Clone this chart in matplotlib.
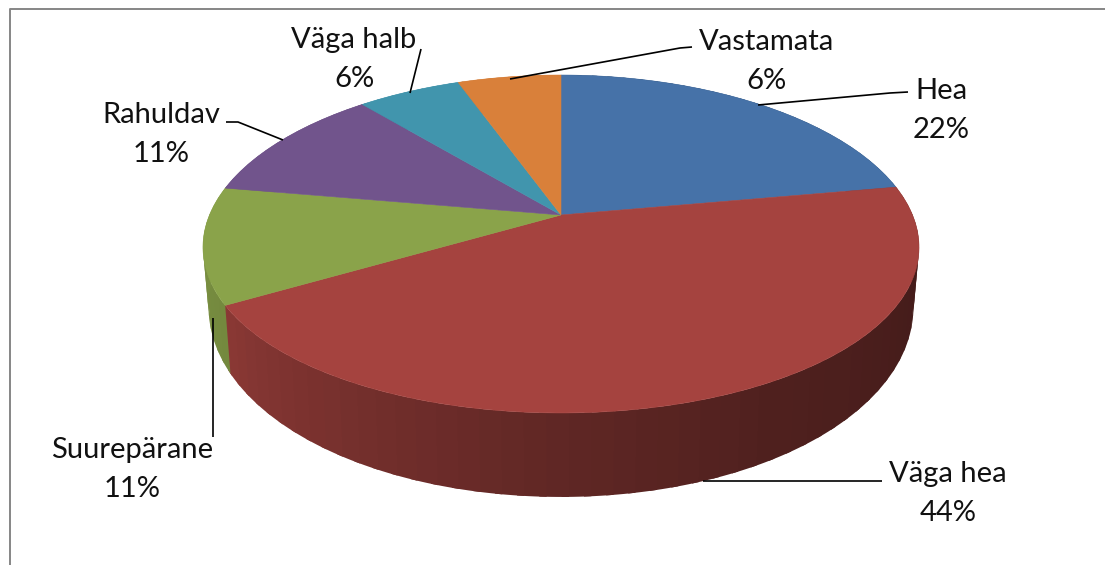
import numpy as np
import matplotlib
matplotlib.use('Agg')
import matplotlib.pyplot as plt
from matplotlib.patches import Polygon

# Дані діаграми
categories = ['Hea', 'Väga hea', 'Suurepärane', 'Rahuldav', 'Väga halb', 'Vastamata']
values = [22.2, 44.4, 11.1, 11.1, 5.6, 5.6]
colors = ['#4672a8', '#a5433f', '#8aa34a', '#71548c', '#4195ad', '#d9803a']

# Підписи: центр тексту, базова лінія першого рядка, лінія-виноска
label_pos = [(941, 99), (948, 482), (132, 458), (161, 123), (354, 48), (767, 50)]
leaders = [
    [(758, 105), (890, 93), (908, 92)],
    [(703, 481), (882, 481)],
    [(213, 318), (213, 437)],
    [(226, 122), (238, 122), (283, 140)],
    [(421, 49), (410, 93)],
    [(510, 79), (680, 48), (692, 47)],
]

W, H = 1105, 565
CX = 561
KX = 0.19
KY = 0.1716


# Перспективна проекція кола: t - кут за годинниковою стрілкою від верху
def rim(t, cy, a, b):
    t = np.radians(t)
    return np.column_stack([CX + b * np.sin(t) / (1 + KX * np.cos(t)),
                            cy - a * np.cos(t) / (1 + KY * np.cos(t))])


def top(t):
    return rim(t, 215, 164, 351.5)


def bottom(t):
    return rim(t, 270, 188, 346)


def shade(t):
    return np.interp(t, [80, 110, 150, 180, 210, 240, 280], [.42, .42, .48, .58, .71, .84, .9])


fig = plt.figure(figsize=(W / 100, H / 100), dpi=100)
ax = fig.add_axes([0, 0, 1, 1])
ax.set_xlim(0, W)
ax.set_ylim(H, 0)
ax.axis('off')

# Рамка: видно лише верх і лівий край
ax.plot([9.5, 9.5, W], [H, 8.5, 8.5], color='#868686', lw=1.4, zorder=1)

edges = np.concatenate([[0], np.cumsum(values)]) / np.sum(values) * 360

# Бічна стінка смужками, кожна трохи заходить на наступну, щоб не було швів
for i, c in enumerate(colors):
    ts = np.arange(edges[i], edges[i + 1], 3.0)
    base = np.array(matplotlib.colors.to_rgb(c))
    for t0 in ts:
        t1 = min(t0 + 3.0, edges[i + 1])
        arc = np.linspace(t0, t1 + 1, 6)
        pts = np.vstack([top(arc), bottom(arc[::-1])])
        ax.add_patch(Polygon(pts, closed=True, facecolor=base * shade((t0 + t1) / 2), lw=0, zorder=2))

# Верхня грань
for i, c in enumerate(colors):
    ts = np.linspace(edges[i], edges[i + 1], 120)
    pts = np.vstack([[[CX, 215]], top(ts)])
    ax.add_patch(Polygon(pts, closed=True, facecolor=c, edgecolor=c, lw=0.4, zorder=3))

# Виноски і підписи
for i, name in enumerate(categories):
    xs, ys = zip(*leaders[i])
    ax.plot(xs, ys, color='black', lw=1.2, zorder=4, solid_capstyle='butt')
    x, y = label_pos[i]
    ax.text(x, y, name, ha='center', va='baseline', family='Lato', fontsize=21, color='#111111', zorder=5)
    ax.text(x, y + 39, f'{round(values[i])}%', ha='center', va='baseline', family='Lato', fontsize=21, color='#111111', zorder=5)

fig.savefig('out.png', dpi=100, facecolor='white')
